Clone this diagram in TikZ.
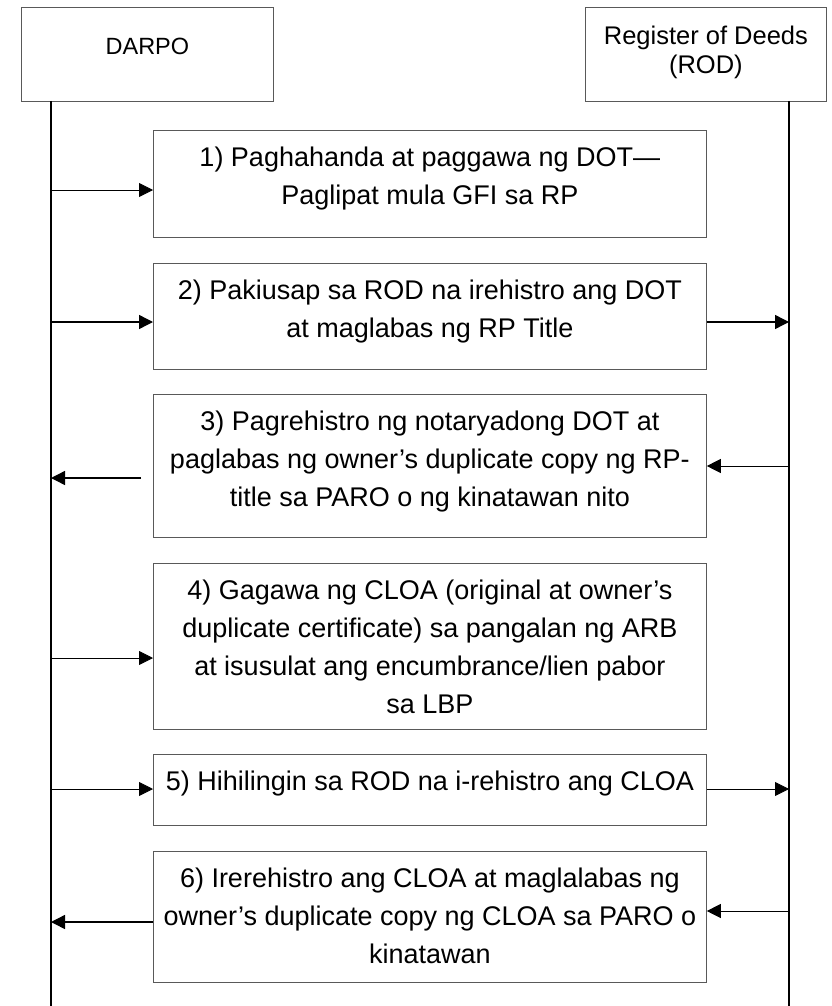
\documentclass[tikz,border=0pt]{standalone}
\usepackage{fontspec}
\setmainfont{Liberation Sans}
\newfontfamily\diagfont{Liberation Sans}
\usetikzlibrary{arrows.meta}

\begin{document}
\begin{tikzpicture}[x=1pt,y=-1pt,
  framebox/.style={draw=gray!70!black, line width=0.8pt, anchor=north west, inner sep=0pt},
  stepbox/.style={framebox, minimum width=553pt},
  steptext/.style={anchor=north, inner sep=0pt, align=center,
    font=\diagfont\fontsize{27}{38}\selectfont},
  headtext/.style={anchor=north, inner sep=0pt, align=center,
    font=\diagfont\fontsize{25.5}{29}\selectfont},
  lifeline/.style={line width=1.5pt},
  msg/.style={line width=0.8pt, -{Triangle[length=14pt,width=14pt]}},
  msgbold/.style={msg, line width=1.4pt},
]
\fill[white] (0,0) rectangle (831,1006);
\useasboundingbox (0,0) rectangle (831,1006);

% participants
\node[framebox, minimum width=252pt, minimum height=94pt] (darpo) at (21,7) {};
\node[headtext, font=\diagfont\fontsize{23.5}{29}\selectfont] (darpoT)
  at ([yshift=-31pt]darpo.north) {DARPO};
\node[framebox, minimum width=241pt, minimum height=94pt] (rod) at (585,7) {};
\node[headtext] (rodT) at ([yshift=-19pt]rod.north) {Register of Deeds\\(ROD)};

% lifelines
\coordinate (L) at (51,101);
\coordinate (R) at (789,101);
\draw[lifeline] (L) -- (51,1006) coordinate (Lend);
\draw[lifeline] (R) -- (789,1006) coordinate (Rend);

% steps
\node[stepbox, minimum height=107pt] (b1) at (153,130) {};
\node[steptext] (t1) at ([yshift=-17pt]b1.north)
  {1) Paghahanda at paggawa ng DOT—\\Paglipat mula GFI sa RP};

\node[stepbox, minimum height=106pt] (b2) at (153,263) {};
\node[steptext] (t2) at ([yshift=-17pt]b2.north)
  {2) Pakiusap sa ROD na irehistro ang DOT\\at maglabas ng RP Title};

\node[stepbox, minimum height=143pt] (b3) at (153,394) {};
\node[steptext] (t3) at ([yshift=-17pt]b3.north)
  {3) Pagrehistro ng notaryadong DOT at\\paglabas ng owner’s duplicate copy ng RP-\\title sa PARO o ng kinatawan nito};

\node[stepbox, minimum height=166pt] (b4) at (153,563) {};
\node[steptext] (t4) at ([yshift=-17pt]b4.north)
  {4) Gagawa ng CLOA (original at owner’s\\duplicate certificate) sa pangalan ng ARB\\at isusulat ang encumbrance/lien pabor\\sa LBP};

\node[stepbox, minimum height=71pt] (b5) at (153,754) {};
\node[steptext] (t5) at ([yshift=-17pt]b5.north)
  {5) Hihilingin sa ROD na i-rehistro ang CLOA};

\node[stepbox, minimum height=131pt] (b6) at (153,851) {};
\node[steptext] (t6) at ([yshift=-17pt]b6.north)
  {6) Irerehistro ang CLOA at maglalabas ng\\owner’s duplicate copy ng CLOA sa PARO o\\kinatawan};

% messages
\draw[msg] (L |- 0,190) -- (b1.west |- 0,190);

\draw[msgbold] (L |- 0,322) -- (b2.west |- 0,322);
\draw[msgbold] (b2.east |- 0,322) -- (R |- 0,322);

\draw[msg] (R |- 0,466) -- (b3.east |- 0,466);
\coordinate (b3out) at ([xshift=-12pt]b3.west |- 0,478);
\draw[msgbold] (b3out) -- (L |- 0,478);

\draw[msg] (L |- 0,658) -- (b4.west |- 0,658);

\draw[msg] (L |- 0,789) -- (b5.west |- 0,789);
\draw[msg] (b5.east |- 0,789) -- (R |- 0,789);

\draw[msg] (R |- 0,911) -- (b6.east |- 0,911);
\draw[msgbold] (b6.west |- 0,922) -- (L |- 0,922);
\end{tikzpicture}
\end{document}
